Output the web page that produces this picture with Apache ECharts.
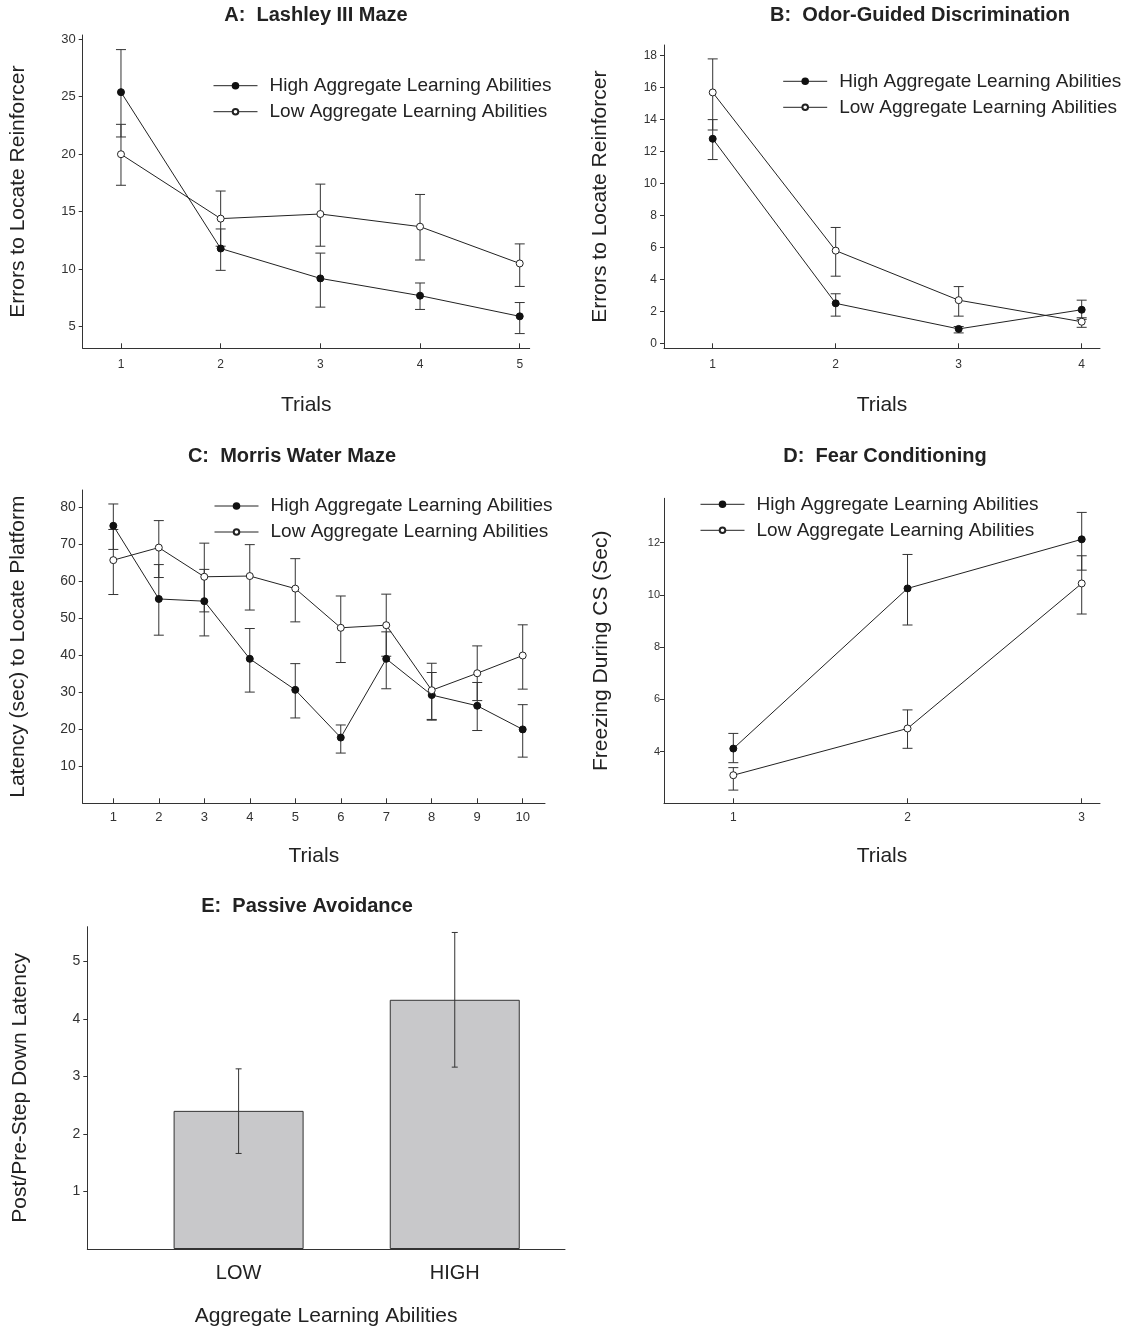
<!DOCTYPE html>
<html>
<head>
<meta charset="utf-8">
<script src="https://cdn.jsdelivr.net/npm/echarts@6/dist/echarts.min.js"></script>
<style>
html,body{margin:0;padding:0;background:#fff;}
#c{width:1130px;height:1331px;}
</style>
</head>
<body>
<div id="c"></div>
<script>
// ---------- DATA ----------
const seriesNames = ['High Aggregate Learning Abilities', 'Low Aggregate Learning Abilities'];

// A: Lashley III Maze
const trialsA = [1, 2, 3, 4, 5];
const highA = [25.4, 11.8, 9.2, 7.7, 5.9];
const highA_lo = [21.5, 9.9, 6.7, 6.5, 4.4];
const highA_hi = [29.1, 13.5, 11.4, 8.8, 7.1];
const lowA = [20.0, 14.4, 14.8, 13.7, 10.5];
const lowA_lo = [17.3, 12.0, 12.0, 10.8, 8.5];
const lowA_hi = [22.6, 16.8, 17.4, 16.5, 12.2];
const ticksA = [5, 10, 15, 20, 25, 30];

// B: Odor-Guided Discrimination
const trialsB = [1, 2, 3, 4];
const highB = [12.8, 2.5, 0.9, 2.1];
const highB_lo = [11.5, 1.7, 0.65, 1.5];
const highB_hi = [14.0, 3.1, 1.05, 2.7];
const lowB = [15.7, 5.8, 2.7, 1.35];
const lowB_lo = [13.35, 4.2, 1.7, 1.0];
const lowB_hi = [17.8, 7.25, 3.55, 1.6];
const ticksB = [0, 2, 4, 6, 8, 10, 12, 14, 16, 18];

// C: Morris Water Maze
const trialsC = [1, 2, 3, 4, 5, 6, 7, 8, 9, 10];
const highC = [75.0, 55.2, 54.6, 39.0, 30.6, 17.7, 39.0, 29.2, 26.3, 19.9];
const highC_lo = [68.6, 45.4, 45.2, 30.0, 23.0, 13.5, 30.9, 22.4, 19.6, 12.4];
const highC_hi = [80.9, 64.5, 63.2, 47.2, 37.7, 21.1, 46.3, 35.3, 32.6, 26.6];
const lowC = [65.7, 69.1, 61.2, 61.4, 58.0, 47.4, 48.1, 30.5, 35.1, 39.9];
const lowC_lo = [56.4, 61.0, 51.7, 52.2, 49.0, 38.0, 39.7, 22.6, 27.7, 30.8];
const lowC_hi = [74.0, 76.4, 70.3, 69.9, 66.1, 56.0, 56.5, 37.8, 42.5, 48.2];
const ticksC = [10, 20, 30, 40, 50, 60, 70, 80];

// D: Fear Conditioning
const trialsD = [1, 2, 3];
const highD = [4.12, 10.25, 12.13];
const highD_lo = [3.58, 8.85, 10.95];
const highD_hi = [4.7, 11.55, 13.16];
const lowD = [3.1, 4.89, 10.44];
const lowD_lo = [2.53, 4.13, 9.27];
const lowD_hi = [3.39, 5.6, 11.5];
const ticksD = [4, 6, 8, 10, 12];

// E: Passive Avoidance
const catsE = ['LOW', 'HIGH'];
const posE = [1, 2];
const valsE = [2.4, 4.33];
const valsE_lo = [1.66, 3.16];
const valsE_hi = [3.13, 5.5];
const ticksE = [1, 2, 3, 4, 5];

// ---------- STYLE / LAYOUT ----------
const FONT = "'Liberation Sans', Arial, Helvetica, sans-serif";
const INK = '#222';
const AX = '#333';

const panels = [
  {key:'A', grid:{left:82.7, top:35, width:447, height:313.3}, x:[0.616, 5.1], y:[3.12, 30.37],
   xt:trialsA, yt:ticksA, xl:12, yl:13, xm:10, ym:7, yname:'Errors to Locate Reinforcer', ygap:54, xgap:46},
  {key:'B', grid:{left:664, top:45, width:436, height:303.3}, x:[0.604, 4.149], y:[-0.313, 18.67],
   xt:trialsB, yt:ticksB, xl:12, yl:12, xm:10, ym:7, yname:'Errors to Locate Reinforcer', ygap:53.5, xgap:46},
  {key:'C', grid:{left:82.7, top:490, width:462.3, height:313.3}, x:[0.327, 10.49], y:[-0.09, 84.68],
   xt:trialsC, yt:ticksC, xl:13, yl:14, xm:8, ym:7, yname:'Latency (sec) to Locate Platform', ygap:54, xgap:42},
  {key:'D', grid:{left:664, top:498.3, width:436, height:305}, x:[0.602, 3.105], y:[2.025, 13.7],
   xt:trialsD, yt:ticksD, xl:12, yl:11, xm:8, ym:4, yname:'Freezing During CS (Sec)', ygap:52.5, xgap:42},
  {key:'E', grid:{left:87.3, top:926.7, width:477.7, height:322.3}, x:[0.3, 2.51], y:[0, 5.6],
   xt:posE, yt:ticksE, xl:20, yl:14, xm:14, ym:7, yname:'Post/Pre-Step Down Latency', ygap:57, xgap:57}
];

const titles = [
  {text:'A:  Lashley III Maze', x:316, y:5},
  {text:'B:  Odor-Guided Discrimination', x:920, y:5},
  {text:'C:  Morris Water Maze', x:292, y:446},
  {text:'D:  Fear Conditioning', x:885, y:446},
  {text:'E:  Passive Avoidance', x:307, y:896}
];

const legends = [
  {left:213, top:75.7},
  {left:782.7, top:71.3},
  {left:214, top:496},
  {left:700, top:494.3}
];

const grid = [], xAxis = [], yAxis = [];
panels.forEach((p, i) => {
  grid.push(Object.assign({containLabel:false, outerBoundsMode:'none'}, p.grid));
  const isE = p.key === 'E';
  xAxis.push({
    type:'value', gridIndex:i, min:p.x[0], max:p.x[1],
    name: isE ? 'Aggregate Learning Abilities' : 'Trials',
    nameLocation:'middle', nameGap:p.xgap,
    nameTextStyle:{fontFamily:FONT, fontSize:21, color:INK},
    axisLine:{show:true, onZero:false, lineStyle:{color:AX, width:1}},
    axisTick:{show:!isE, inside:true, length:5, lineStyle:{color:AX}, customValues:p.xt},
    axisLabel:{fontFamily:FONT, fontSize:p.xl, color: isE ? INK : AX, margin:p.xm, customValues:p.xt,
      formatter: isE ? (v => catsE[posE.indexOf(Math.round(v))] || '') : (v => String(Math.round(v)))},
    splitLine:{show:false}
  });
  yAxis.push({
    type:'value', gridIndex:i, min:p.y[0], max:p.y[1],
    name:p.yname, nameLocation:'middle', nameGap:p.ygap, nameRotate:90,
    nameTextStyle:{fontFamily:FONT, fontSize:21, color:INK},
    axisLine:{show:true, onZero:false, lineStyle:{color:AX, width:1}},
    axisTick:{show:true, inside:false, length:4, lineStyle:{color:AX}, customValues:p.yt},
    axisLabel:{fontFamily:FONT, fontSize:p.yl, color:AX, margin:p.ym, customValues:p.yt,
      formatter: v => String(Math.round(v))},
    splitLine:{show:false}
  });
});

function errSeries(idx, xs, lo, hi, cap, nm) {
  return {
    type:'custom', name:nm, xAxisIndex:idx, yAxisIndex:idx, silent:true, z:4,
    data: xs.map((x, i) => [x, lo[i], hi[i]]),
    encode:{x:0, y:[1, 2]},
    renderItem: (params, api) => {
      const t = api.coord([api.value(0), api.value(2)]);
      const b = api.coord([api.value(0), api.value(1)]);
      const st = {stroke:'#333', lineWidth:1, fill:null};
      return {type:'group', children:[
        {type:'line', shape:{x1:t[0], y1:t[1], x2:b[0], y2:b[1]}, style:st},
        {type:'line', shape:{x1:t[0]-cap, y1:t[1], x2:t[0]+cap, y2:t[1]}, style:st},
        {type:'line', shape:{x1:b[0]-cap, y1:b[1], x2:b[0]+cap, y2:b[1]}, style:st}
      ]};
    }
  };
}

function lineSeries(idx, name, xs, ys, filled) {
  return {
    type:'line', name:name, xAxisIndex:idx, yAxisIndex:idx, z:5,
    data: xs.map((x, i) => [x, ys[i]]),
    symbol:'circle', symbolSize:7, showSymbol:true,
    lineStyle:{color:INK, width:1},
    itemStyle: filled ? {color:'#111', borderColor:'#111', borderWidth:1} : {color:'#fff', borderColor:INK, borderWidth:1},
    emphasis:{disabled:true}, animation:false
  };
}

const series = [];
const lineSets = [
  [trialsA, highA, highA_lo, highA_hi, lowA, lowA_lo, lowA_hi, 5],
  [trialsB, highB, highB_lo, highB_hi, lowB, lowB_lo, lowB_hi, 5],
  [trialsC, highC, highC_lo, highC_hi, lowC, lowC_lo, lowC_hi, 5],
  [trialsD, highD, highD_lo, highD_hi, lowD, lowD_lo, lowD_hi, 5]
];
lineSets.forEach((s, i) => {
  series.push(errSeries(i, s[0], s[2], s[3], s[7], 'errH' + i));
  series.push(errSeries(i, s[0], s[5], s[6], s[7], 'errL' + i));
  series.push(lineSeries(i, seriesNames[0], s[0], s[1], true));
  series.push(lineSeries(i, seriesNames[1], s[0], s[4], false));
});
series.push({
  type:'bar', name:'Passive Avoidance', xAxisIndex:4, yAxisIndex:4, barWidth:130, z:2,
  data: posE.map((x, i) => [x, valsE[i]]),
  itemStyle:{color:'#c8c8ca', borderColor:'#333', borderWidth:1},
  emphasis:{disabled:true}
});
series.push(errSeries(4, posE, valsE_lo, valsE_hi, 3, 'errE'));

const option = {
  backgroundColor:'#fff',
  animation:false,
  textStyle:{fontFamily:FONT},
  title: titles.map(t => ({
    text:t.text, left:t.x, top:t.y, textAlign:'center', padding:0,
    textStyle:{fontFamily:FONT, fontSize:20, fontWeight:'bold', color:INK}
  })),
  legend: legends.map(l => ({
    data:seriesNames, orient:'vertical', left:l.left, top:l.top, padding:0,
    itemWidth:44, itemHeight:7, itemGap:6, selectedMode:false,
    lineStyle:{width:1, color:INK},
    textStyle:{fontFamily:FONT, fontSize:19, color:INK, lineHeight:20, padding:[0,0,0,7]}
  })),
  grid, xAxis, yAxis, series
};

const chart = echarts.init(document.getElementById('c'), null, {renderer:'canvas'});
chart.setOption(option);
</script>
</body>
</html>
